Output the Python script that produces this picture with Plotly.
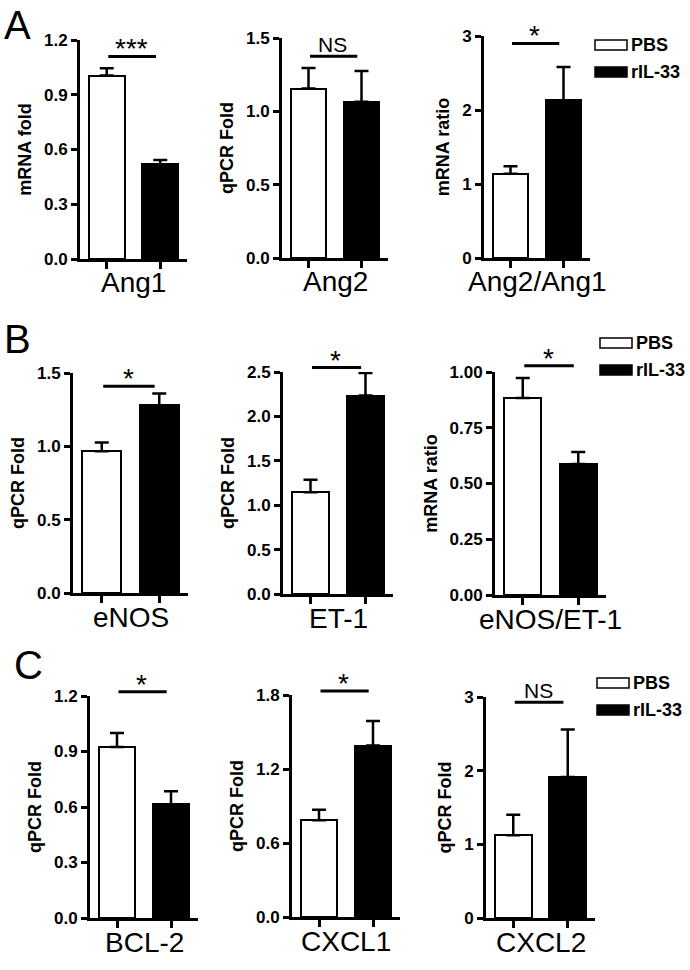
import plotly.graph_objects as go

# data
groups = ["PBS", "rIL-33"]
genes = ["Ang1", "Ang2", "Ang2/Ang1", "eNOS", "ET-1", "eNOS/ET-1", "BCL-2", "CXCL1", "CXCL2"]
pbs_mean = [1.005, 1.155, 1.14, 0.966, 1.147, 0.883, 0.925, 0.785, 1.122]
pbs_err = [0.04, 0.14, 0.10, 0.06, 0.14, 0.09, 0.075, 0.085, 0.28]
ril_mean = [0.518, 1.065, 2.13, 1.28, 2.235, 0.587, 0.615, 1.39, 1.915]
ril_err = [0.025, 0.21, 0.45, 0.08, 0.255, 0.054, 0.07, 0.20, 0.645]
sig_labels = ["***", "NS", "*", "*", "*", "*", "*", "*", "NS"]
sig_y = [1.11, 1.375, 2.9, 1.41, 2.55, 1.028, 1.223, 1.833, 2.93]
y_titles = ["mRNA fold", "qPCR Fold", "mRNA ratio", "qPCR Fold", "qPCR Fold",
            "mRNA ratio", "qPCR Fold", "qPCR Fold", "qPCR Fold"]
y_max = [1.2, 1.5, 3, 1.5, 2.5, 1.0, 1.2, 1.8, 3]
y_dtick = [0.3, 0.5, 1, 0.5, 0.5, 0.25, 0.3, 0.6, 1]
y_fmt = [".1f", ".1f", "d", ".1f", ".1f", ".2f", ".1f", ".1f", "d"]
row_letters = ["A", "B", "C"]

W, H = 690, 970
FONT = "Arial, Liberation Sans, sans-serif"

# plot area of each panel in pixels: left, right, top, bottom
axes_px = [(80, 187, 40, 259), (282, 388, 38, 258), (484, 590, 36, 258),
           (73, 188, 373, 593), (283, 393, 372, 594), (495, 606, 372, 595),
           (90, 198, 696, 918), (292, 400, 695, 917), (486, 595, 697, 918)]
# legend box (white rect top-left) per row
legend_px = [(595, 40), (600, 338), (597, 678)]
letter_px = [(2, 25), (2, 339), (12, 665)]


def px(x):
    return x / W


def py(y):
    return 1 - y / H


fig = go.Figure()
annotations = []
shapes = []

for i, gene in enumerate(genes):
    n = "" if i == 0 else str(i + 1)
    xa, ya = "x" + n, "y" + n
    l, r, t, b = axes_px[i]
    for j, (mean, err, fill) in enumerate([(pbs_mean, pbs_err, "white"), (ril_mean, ril_err, "black")]):
        fig.add_trace(go.Bar(
            x=[j], y=[mean[i]], width=0.67, xaxis=xa, yaxis=ya, name=groups[j], showlegend=False,
            marker=dict(color=fill, line=dict(color="black", width=2)),
            error_y=dict(type="data", symmetric=False, array=[err[i]], arrayminus=[0],
                         color="black", thickness=2.5, width=7),
        ))
    ticks = []
    v = 0.0
    while v <= y_max[i] + 1e-9:
        ticks.append(round(v, 4))
        v += y_dtick[i]
    fig.update_layout(**{
        "xaxis" + n: dict(domain=[px(l), px(r)], anchor=ya, range=[-0.5, 1.5], automargin=False,
                          tickvals=[0, 1], showticklabels=False, ticks="outside",
                          ticklen=7, tickwidth=2.5, tickcolor="black",
                          showline=True, linewidth=3, linecolor="black",
                          showgrid=False, zeroline=False, fixedrange=True),
        "yaxis" + n: dict(domain=[py(b), py(t)], anchor=xa, range=[0, y_max[i]], automargin=False,
                          tickvals=ticks, tickformat=y_fmt[i], ticks="outside",
                          ticklen=6, tickwidth=2.5, tickcolor="black",
                          showline=True, linewidth=3, linecolor="black",
                          showgrid=False, zeroline=False, fixedrange=True,
                          tickfont=dict(family=FONT, size=17, color="black", weight="bold"),
                          title=dict(text=y_titles[i], standoff=8,
                                     font=dict(family=FONT, size=18, color="black", weight="bold"))),
    })
    # category name under the axis
    annotations.append(dict(text=gene, xref=xa + " domain", yref=ya + " domain",
                            x=0.5, y=-24 / (b - t), xanchor="center", yanchor="middle",
                            showarrow=False, font=dict(family=FONT, size=28, color="black")))
    # significance bar, placed in domain units so it may sit above the top tick
    sy = sig_y[i] / y_max[i]
    annotations.append(dict(text="", xref=xa, yref=ya + " domain", axref=xa, ayref=ya + " domain",
                            x=0.92, y=sy, ax=0.0, ay=sy,
                            showarrow=True, arrowhead=0, arrowwidth=3, arrowcolor="black"))
    star = sig_labels[i] != "NS"
    annotations.append(dict(text=sig_labels[i], xref=xa, yref=ya + " domain", x=0.46, y=sy,
                            xanchor="center", yanchor="bottom", showarrow=False,
                            yshift=-10 if star else -2,
                            font=dict(family=FONT, size=28 if star else 21, color="black")))

# row letters and legends
for k in range(3):
    lx, ly = letter_px[k]
    annotations.append(dict(text=row_letters[k], xref="paper", yref="paper", x=px(lx), y=py(ly),
                            xanchor="left", yanchor="middle", showarrow=False,
                            font=dict(family=FONT, size=40, color="black")))
    gx, gy = legend_px[k]
    for j, fill in enumerate(["white", "black"]):
        y0 = gy + j * 27
        shapes.append(dict(type="rect", xref="paper", yref="paper",
                           x0=px(gx), x1=px(gx + 32), y0=py(y0), y1=py(y0 + 10),
                           fillcolor=fill, line=dict(color="black", width=1.5)))
        annotations.append(dict(text=groups[j], xref="paper", yref="paper",
                                x=px(gx + 34), y=py(y0 + 5), xanchor="left", yanchor="middle",
                                showarrow=False,
                                font=dict(family=FONT, size=18, color="black", weight="bold")))

fig.update_layout(
    width=W, height=H, margin=dict(l=0, r=0, t=0, b=0),
    paper_bgcolor="white", plot_bgcolor="white",
    showlegend=False, bargap=0,
    annotations=annotations, shapes=shapes,
)

# the page body has a default 8px margin; drop it so the figure fills the window
fig.write_html("out.html", config={"displayModeBar": False},
               post_script="document.body.style.margin='0';")
